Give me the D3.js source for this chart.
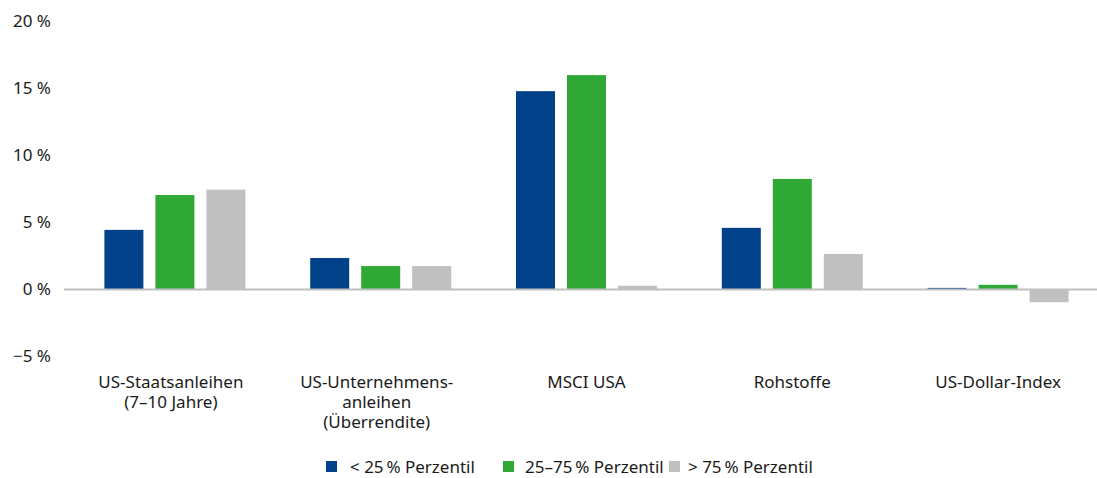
<!DOCTYPE html>
<html>
<head>
<meta charset="utf-8">
<script src="https://cdn.jsdelivr.net/npm/d3@7"></script>
<style>
  body { margin: 0; background: #fff; }
  text { font-family: "Noto Sans", "Open Sans", sans-serif; fill: #1a1a1a; }
</style>
</head>
<body>
<svg id="chart"></svg>
<script>
// Kategorien und Werte (in %)
const categories = [
  ['US-Staatsanleihen', '(7–10 Jahre)'],
  ['US-Unternehmens-', 'anleihen', '(Überrendite)'],
  ['MSCI USA'],
  ['Rohstoffe'],
  ['US-Dollar-Index']
];
const seriesNames = ['< 25\u2009% Perzentil', '25–75\u2009% Perzentil', '> 75\u2009% Perzentil'];
const low  = [4.45, 2.35, 14.8, 4.6, 0.12];
const mid  = [7.05, 1.75, 16.0, 8.25, 0.35];
const high = [7.45, 1.75, 0.28, 2.65, -0.95];
const yTicks = [-5, 0, 5, 10, 15, 20];

const colors = ['#00418a', '#2fa836', '#c0c0c0'];
const width = 1097, height = 478;

const svg = d3.select('#chart').attr('width', width).attr('height', height);

const x0 = d3.scaleBand()
    .domain(d3.range(categories.length))
    .range([72, 1101]);

const x1 = d3.scaleBand()
    .domain([0, 1, 2])
    .range([-70.5, 70.5])
    .paddingInner(12 / 51);

const y = d3.scaleLinear()
    .domain([-5, 20])
    .range([356.5, 21.5]);

const data = categories.map((c, i) => [low[i], mid[i], high[i]]);

// y-Achse
const yAxis = d3.axisLeft(y)
    .tickValues(yTicks)
    .tickSize(0)
    .tickPadding(0)
    .tickFormat(d => (d < 0 ? '\u2212' + Math.abs(d) : d) + ' %');

svg.append('g')
    .attr('transform', 'translate(51,0)')
    .call(yAxis)
    .call(g => g.select('.domain').remove())
    .selectAll('text')
    .style('font-size', '17px')
    .attr('fill', '#1a1a1a');

// Balken
const groups = svg.append('g').selectAll('g')
    .data(data)
    .join('g')
    .attr('transform', (d, i) => `translate(${x0(i) + x0.bandwidth() / 2},0)`);

groups.selectAll('rect')
    .data(d => d)
    .join('rect')
    .attr('x', (d, j) => x1(j))
    .attr('width', x1.bandwidth())
    .attr('y', d => y(Math.max(0, d)))
    .attr('height', d => Math.abs(y(d) - y(0)))
    .attr('fill', (d, j) => colors[j]);

// Nulllinie
svg.append('line')
    .attr('x1', 64).attr('x2', width)
    .attr('y1', y(0)).attr('y2', y(0))
    .attr('stroke', '#bfbfbf')
    .attr('stroke-width', 2);

// Kategorienbeschriftung
const labels = svg.append('g').selectAll('text')
    .data(categories)
    .join('text')
    .attr('text-anchor', 'middle')
    .attr('x', (d, i) => x0(i) + x0.bandwidth() / 2 - (d.length > 1 ? 4 : 0))
    .attr('y', 388)
    .style('font-size', '17px');

labels.selectAll('tspan')
    .data(d => d)
    .join('tspan')
    .attr('x', function () { return d3.select(this.parentNode).attr('x'); })
    .attr('dy', (d, k) => k === 0 ? 0 : 20)
    .text(d => d);

// Legende
const legendX = [326, 503, 669];
const legend = svg.append('g').selectAll('g')
    .data(seriesNames)
    .join('g')
    .attr('transform', (d, i) => `translate(${legendX[i]},467)`);

legend.append('rect')
    .attr('x', 0).attr('y', -6)
    .attr('width', 11).attr('height', 11)
    .attr('fill', (d, i) => colors[i]);

legend.append('text')
    .attr('x', (d, i) => [24, 22, 19][i])
    .attr('y', 5.5)
    .style('font-size', '17px')
    .text(d => d);
</script>
</body>
</html>
